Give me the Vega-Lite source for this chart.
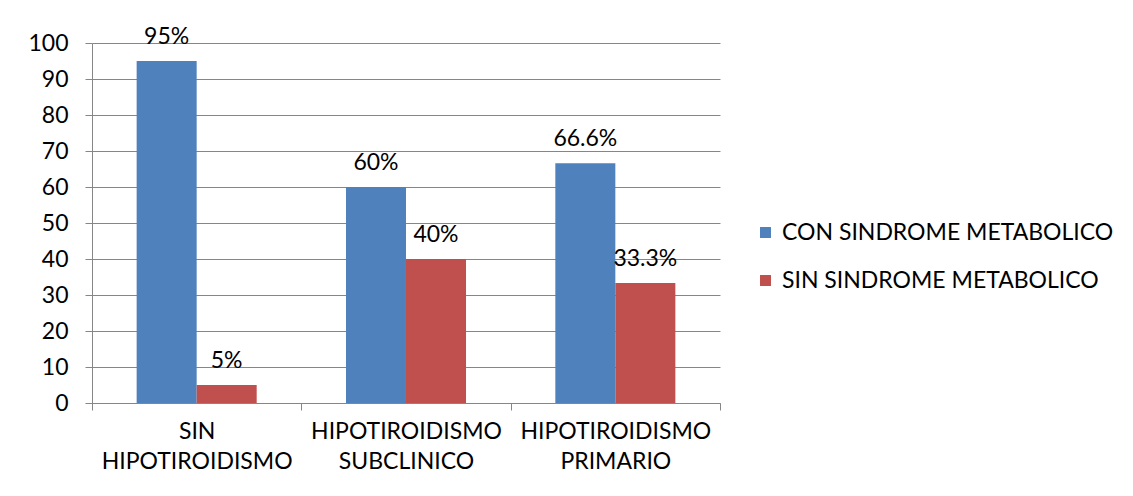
{
  "$schema": "https://vega.github.io/schema/vega-lite/v6.json",
  "autosize": "none",
  "width": 628,
  "height": 360,
  "padding": {"left": 92, "top": 43, "right": 413, "bottom": 93},
  "background": "white",
  "config": {
    "view": {"stroke": null},
    "font": "Lato",
    "axis": {"labelFont": "Lato", "labelColor": "black", "labelFontSize": 23, "domainColor": "#868686", "tickColor": "#868686", "gridColor": "#868686", "gridOpacity": 1}
  },
  "data": {
    "values": [
      {"grupo": "SIN HIPOTIROIDISMO", "serie": "CON  SINDROME METABOLICO", "valor": 95, "etiqueta": "95%"},
      {"grupo": "SIN HIPOTIROIDISMO", "serie": "SIN SINDROME METABOLICO", "valor": 5, "etiqueta": "5%"},
      {"grupo": "HIPOTIROIDISMO SUBCLINICO", "serie": "CON  SINDROME METABOLICO", "valor": 60, "etiqueta": "60%"},
      {"grupo": "HIPOTIROIDISMO SUBCLINICO", "serie": "SIN SINDROME METABOLICO", "valor": 40, "etiqueta": "40%"},
      {"grupo": "HIPOTIROIDISMO PRIMARIO", "serie": "CON  SINDROME METABOLICO", "valor": 66.6, "etiqueta": "66.6%"},
      {"grupo": "HIPOTIROIDISMO PRIMARIO", "serie": "SIN SINDROME METABOLICO", "valor": 33.3, "etiqueta": "33.3%"}
    ]
  },
  "encoding": {
    "x": {
      "field": "grupo", "type": "nominal",
      "sort": ["SIN HIPOTIROIDISMO", "HIPOTIROIDISMO SUBCLINICO", "HIPOTIROIDISMO PRIMARIO"],
      "scale": {"paddingInner": 0, "paddingOuter": 0},
      "axis": {"title": null, "labelAngle": 0, "labelExpr": "split(datum.label, ' ')", "labelLimit": 0, "labelLineHeight": 30, "labelPadding": 10, "tickBand": "extent", "tickSize": 7, "grid": false, "labelBaseline": "top"}
    },
    "xOffset": {"field": "serie", "type": "nominal", "sort": ["CON  SINDROME METABOLICO", "SIN SINDROME METABOLICO"], "scale": {"paddingInner": 0, "paddingOuter": 0.744}},
    "y": {
      "field": "valor", "type": "quantitative",
      "scale": {"domain": [0, 100], "nice": false},
      "axis": {"title": null, "values": [0, 10, 20, 30, 40, 50, 60, 70, 80, 90, 100], "tickSize": 7, "labelPadding": 17, "grid": true}
    }
  },
  "layer": [
    {
      "mark": {"type": "bar"},
      "encoding": {
        "color": {
          "field": "serie", "type": "nominal",
          "sort": ["CON  SINDROME METABOLICO", "SIN SINDROME METABOLICO"],
          "scale": {"range": ["#4F81BD", "#C0504D"]},
          "legend": {"title": null, "orient": "none", "legendX": 662, "legendY": 178, "padding": 0, "symbolType": "square", "symbolSize": 120, "symbolStrokeWidth": 0, "labelFontSize": 23, "labelFont": "Lato", "labelColor": "black", "labelLimit": 0, "rowPadding": 24, "labelOffset": 5}
        }
      }
    },
    {
      "mark": {"type": "text", "baseline": "alphabetic", "dy": -17, "fontSize": 23, "font": "Lato", "color": "black"},
      "encoding": {"text": {"field": "etiqueta"}}
    }
  ]
}
